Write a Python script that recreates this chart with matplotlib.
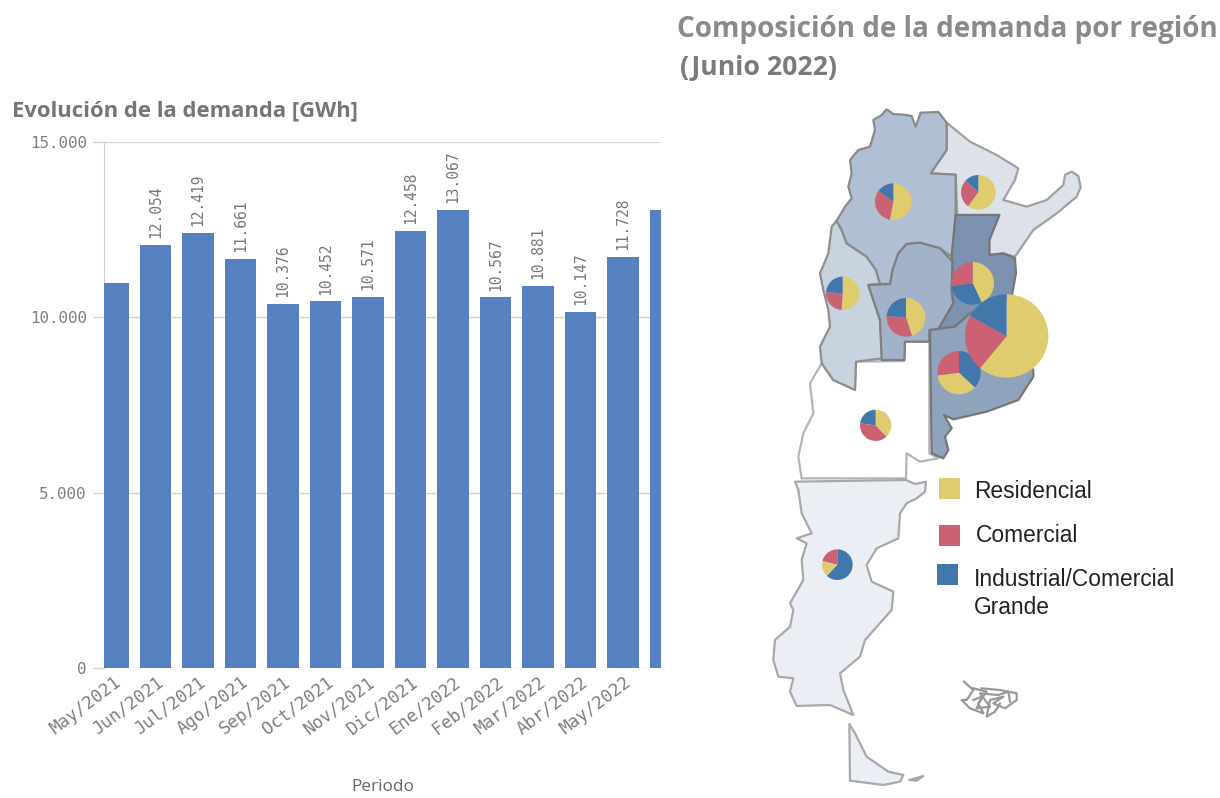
import matplotlib
matplotlib.use('Agg')
import matplotlib.pyplot as plt
from matplotlib.patches import Polygon, Rectangle

# ---------------------------------
# Data
# ---------------------------------
periodos = ['May/2021', 'Jun/2021', 'Jul/2021', 'Ago/2021', 'Sep/2021', 'Oct/2021', 'Nov/2021',
            'Dic/2021', 'Ene/2022', 'Feb/2022', 'Mar/2022', 'Abr/2022', 'May/2022', 'Jun/2022']
demanda = [10979, 12054, 12419, 11661, 10376, 10452, 10571,
           12458, 13067, 10567, 10881, 10147, 11728, 13060]
sin_etiqueta = ['May/2021', 'Jun/2022']
y_ticks = [0, 5000, 10000, 15000]

usos = ['Residencial', 'Comercial', 'Industrial/Comercial\nGrande']
amarillo, rojo, azul = '#dfcc6e', '#cb6274', '#4277ab'
colores_uso = [amarillo, rojo, azul]

# shares per region: residencial, comercial, industrial
noa = [53, 32, 15]
nea = [60, 27, 13]
litoral = [43, 27, 30]
gba = [61, 22, 17]
buenos_aires = [36, 27, 37]
cuyo = [51, 25, 24]
centro = [45, 31, 24]
comahue = [38, 39, 23]
patagonia = [17, 21, 62]

# order of the slices clockwise from the top
orden_std = [0, 1, 2]
orden_litoral = [0, 2, 1]
orden_azul = [2, 0, 1]

# ---------------------------------
# Map outlines (crop coordinates)
# ---------------------------------
NORTE = (770, 100)
SUR = (760, 470)

forma_noa = [(350, 28), (370, 42), (400, 44), (425, 48), (437, 80), (452, 38), (505, 36), (530, 68), (530, 150),
             (482, 220), (557, 224), (557, 345), (545, 470), (510, 445), (450, 428), (410, 432),
             (385, 460), (368, 510), (360, 552), (330, 552), (318, 510), (290, 470), (230, 430),
             (215, 390), (200, 362), (225, 320), (245, 295), (235, 260), (245, 220), (240, 180),
             (265, 150), (300, 140), (315, 90), (310, 60), (335, 45)]
forma_nea = [(530, 68), (600, 125), (680, 165), (745, 205), (735, 240), (700, 300), (770, 320),
             (830, 300), (880, 255), (885, 225), (905, 215), (925, 228), (932, 262), (920, 290),
             (860, 340), (790, 390), (735, 470), (700, 460), (658, 465), (658, 420), (688, 345),
             (562, 345), (557, 224), (482, 220), (530, 150)]
forma_litoral = [(562, 345), (688, 345), (658, 420), (658, 465), (700, 460), (735, 475), (738, 520),
                 (725, 590), (600, 640), (555, 680), (505, 688), (550, 610), (545, 570), (548, 490),
                 (545, 470), (557, 345)]
forma_cuyo = [(200, 362), (215, 390), (230, 430), (290, 470), (318, 510), (330, 552), (295, 555),
              (330, 660), (338, 775), (258, 785), (255, 870), (190, 840), (155, 790), (150, 740),
              (180, 680), (175, 630), (160, 570), (150, 520), (175, 460), (185, 380)]
forma_centro = [(360, 552), (368, 510), (385, 460), (410, 432), (450, 428), (510, 445), (548, 485),
                (545, 570), (550, 610), (505, 688), (478, 690), (478, 725), (405, 725), (403, 780),
                (335, 780), (330, 660), (295, 555)]
forma_bsas = [(480, 690), (555, 680), (600, 640), (700, 700), (790, 810), (790, 830), (745, 900),
              (650, 935), (550, 958), (522, 945), (545, 985), (525, 1010), (535, 1050), (520, 1075),
              (485, 1060)]
forma_comahue = [(258, 785), (403, 783), (405, 725), (478, 725), (478, 1060), (505, 1075), (450, 1085),
                 (410, 1060), (408, 1135), (95, 1135), (85, 1070), (100, 1000), (130, 940), (120, 850),
                 (155, 790), (190, 840), (255, 870)]
forma_patagonia = [(105, 35), (438, 30), (465, 42), (498, 35), (495, 65), (470, 85), (440, 100), (420, 130),
                   (415, 205), (350, 235), (320, 285), (335, 335), (400, 365), (395, 420), (315, 510),
                   (300, 560), (240, 610), (250, 660), (280, 735), (210, 705), (110, 708), (90, 665),
                   (100, 625), (55, 620), (40, 570), (45, 510), (90, 470), (100, 420), (90, 400),
                   (130, 330), (125, 270), (140, 220), (110, 205), (155, 190), (125, 130), (115, 60)]
forma_tdf = [(268, 762), (285, 790), (320, 860), (385, 905), (430, 915), (420, 935), (370, 945), (270, 932)]
forma_isla = [(448, 930), (490, 918), (470, 932)]
malvinas_1 = [(612, 635), (640, 660), (620, 690), (605, 690), (630, 715), (670, 730), (655, 700),
              (680, 665), (640, 655)]
malvinas_2 = [(665, 655), (720, 660), (770, 670), (770, 690), (735, 715), (700, 700), (730, 680),
              (690, 690), (680, 740), (705, 725), (720, 700)]
malvinas_3 = [(640, 690), (665, 680), (650, 715), (690, 710), (660, 670), (715, 675), (745, 665), (750, 695)]

def px(puntos, origen):
    # crops are 3x, y axis of the map goes up
    return [(origen[0] + x / 3, 798 - (origen[1] + y / 3)) for x, y in puntos]

# ---------------------------------
# Figure
# ---------------------------------
W, H = 1220, 798
fig = plt.figure(figsize=(W / 100, H / 100), dpi=100, facecolor='white')

# ---------------------------------
# Bars
# ---------------------------------
gris = '#7f7f7f'
ax = fig.add_axes([104 / W, 1 - 668 / H, (661 - 104) / W, (668 - 142) / H])
pos = list(range(len(periodos)))
ax.bar(pos, demanda, width=0.73, color='#5581c1', zorder=3)
ax.set_xlim(-0.212, 12.894)
ax.set_ylim(0, 15000)
ax.set_yticks(y_ticks)
ax.set_yticklabels([f'{v:,}'.replace(',', '.') for v in y_ticks],
                   family='DejaVu Sans Mono', fontsize=11.4, color=gris)
ax.set_xticks(pos[:-1])
ax.set_xticklabels(periodos[:-1], rotation=37, ha='right', va='top', rotation_mode='anchor',
                   family='DejaVu Sans Mono', fontsize=12.5, color=gris)
ax.tick_params(axis='x', length=0, pad=4)
ax.tick_params(axis='y', length=8, width=1, color='#d2d2d2', pad=4.5)
ax.grid(axis='y', color='#d2d2d2', lw=1, zorder=0)
for s in ['top', 'right', 'bottom']:
    ax.spines[s].set_visible(False)
ax.spines['left'].set_color('#d2d2d2')
for p, per, v in zip(pos, periodos, demanda):
    if per not in sin_etiqueta:
        ax.annotate(f'{v:,}'.replace(',', '.'), (p, v), xytext=(0, 5), textcoords='offset points',
                    rotation=90, ha='center', va='bottom', family='DejaVu Sans Mono',
                    fontsize=10.5, color='#777777')

fig.text(12 / W, 1 - 111 / H, 'Evolución de la demanda [GWh]', family='Open Sans', fontweight='bold',
         fontsize=15.8, color='#757575', va='center', ha='left')
fig.text(383 / W, 1 - 787 / H, 'Periodo', family='Open Sans', fontsize=12.4, color='#666666',
         va='center', ha='center')

# ---------------------------------
# Map
# ---------------------------------
mapa = fig.add_axes([0, 0, 1, 1], zorder=5)
mapa.patch.set_alpha(0)
mapa.set_xlim(0, W)
mapa.set_ylim(0, H)

regiones = [(forma_comahue, NORTE, 'white', '#b4b4b4'),
            (forma_patagonia, SUR, '#ebeef4', '#a8a8a8'),
            (forma_tdf, SUR, '#ebeef4', '#a8a8a8'),
            (forma_isla, SUR, '#ebeef4', '#a8a8a8'),
            (forma_nea, NORTE, '#dde2ea', '#a0a0a0'),
            (forma_cuyo, NORTE, '#c8d3e0', '#8f8f8f'),
            (forma_noa, NORTE, '#b0bfd3', '#8a8a8a'),
            (forma_centro, NORTE, '#a2b2ca', '#808080'),
            (forma_litoral, NORTE, '#7d91b0', '#777777'),
            (forma_bsas, NORTE, '#90a3bd', '#777777')]
for forma, origen, relleno, borde in regiones:
    mapa.add_patch(Polygon(px(forma, origen), closed=True, facecolor=relleno, edgecolor=borde,
                           lw=1.6, joinstyle='round'))

for isla in [malvinas_1, malvinas_2, malvinas_3]:
    xs, ys = zip(*px(isla, SUR))
    mapa.plot(xs, ys, color='#999999', lw=1.6)

tortas = [(noa, orden_std, (370, 305), 55, NORTE), (nea, orden_std, (625, 277), 52, NORTE),
          (cuyo, orden_std, (218, 580), 50, NORTE), (centro, orden_std, (408, 652), 58, NORTE),
          (litoral, orden_litoral, (608, 550), 64, NORTE), (buenos_aires, orden_azul, (567, 818), 65, NORTE),
          (gba, orden_std, (710, 708), 125, NORTE), (comahue, orden_std, (317, 976), 47, NORTE),
          (patagonia, orden_azul, (232, 284), 46, SUR)]
for partes, orden, centro_torta, radio, origen in tortas:
    mapa.pie([partes[i] for i in orden], colors=[colores_uso[i] for i in orden],
             startangle=90, counterclock=False,
             center=px([centro_torta], origen)[0], radius=radio / 3, frame=True)

mapa.set_xlim(0, W)
mapa.set_ylim(0, H)
mapa.set_aspect('auto')
mapa.axis('off')

# legend
for (x0, y0), color in zip([(939, 478), (939, 525), (937, 564)], colores_uso):
    mapa.add_patch(Rectangle((x0, H - y0 - 21), 21, 21, facecolor=color, edgecolor='none'))
for (x0, y0), nombre in zip([(974, 492), (976, 536), (974, 580)], usos):
    mapa.text(x0, H - y0, nombre.split('\n')[0], family='Liberation Sans', fontsize=16.4, color='#222222',
              va='center', ha='left')
mapa.text(974, H - 608, usos[2].split('\n')[1], family='Liberation Sans', fontsize=16.4, color='#222222',
          va='center', ha='left')

fig.text(677 / W, 1 - 29 / H, 'Composición de la demanda por región', family='Open Sans',
         fontweight='bold', fontsize=20.1, color='#8a8a8a', va='center', ha='left')
fig.text(680 / W, 1 - 68 / H, '(Junio 2022)', family='Open Sans', fontweight='bold',
         fontsize=19.2, color='#7a7a7a', va='center', ha='left')

fig.savefig('out.png', dpi=100)
